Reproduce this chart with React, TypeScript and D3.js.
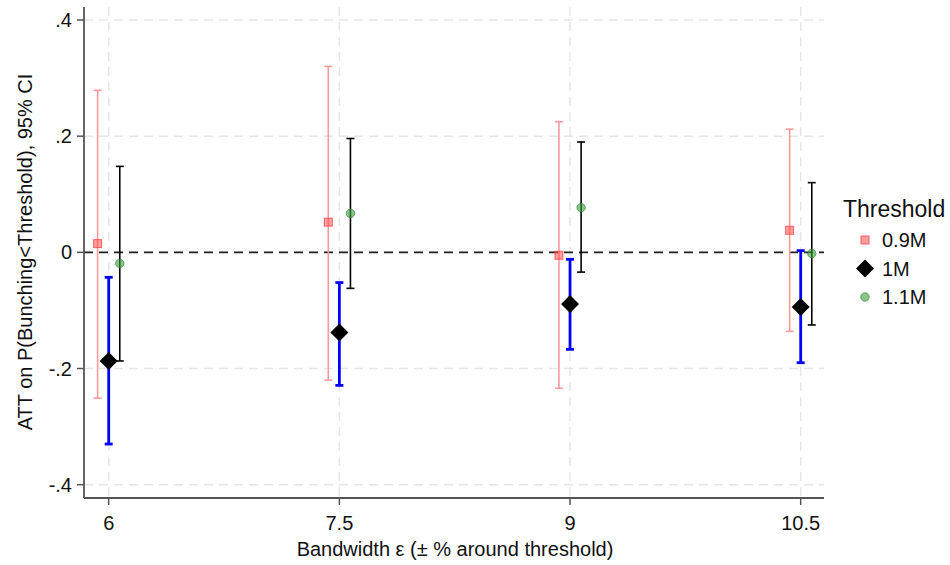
import React from "react";
import * as d3 from "d3";

const bandwidths = [6, 7.5, 9, 10.5];
const thresholds = ["0.9M", "1M", "1.1M"];
const est09 = [0.015, 0.052, -0.005, 0.038];
const lo09 = [-0.251, -0.22, -0.234, -0.136];
const hi09 = [0.279, 0.32, 0.225, 0.212];
const est10 = [-0.187, -0.138, -0.089, -0.094];
const lo10 = [-0.33, -0.229, -0.167, -0.19];
const hi10 = [-0.043, -0.052, -0.012, 0.003];
const est11 = [-0.019, 0.067, 0.077, -0.002];
const lo11 = [-0.187, -0.062, -0.034, -0.125];
const hi11 = [0.148, 0.196, 0.19, 0.12];
const yTicks = [-0.4, -0.2, 0, 0.2, 0.4];
const yTickLabels = ["-.4", "-.2", "0", ".2", ".4"];
const xTickLabels = ["6", "7.5", "9", "10.5"];
const offsets = [-0.072, 0, 0.072];

const W = 950;
const H = 565;
const FONT = "Liberation Sans, Arial, sans-serif";

export default function App() {
  const x = d3.scaleLinear().domain([6, 10.5]).range([108.7, 800.7]);
  const y = d3.scaleLinear().domain([-0.4, 0.4]).range([484.7, 20]);
  const left = 84;
  const right = 824;
  const top = 7;
  const bottom = 498;
  const cap = 4;

  const series = [
    { est: est09, lo: lo09, hi: hi09, ciColor: "#ff9a9a", ciW: 1.6 },
    { est: est10, lo: lo10, hi: hi10, ciColor: "#0000ff", ciW: 2.8 },
    { est: est11, lo: lo11, hi: hi11, ciColor: "#000000", ciW: 1.6 },
  ];

  const marker = (si: number, cx: number, cy: number, key: string) => {
    if (si === 0)
      return (
        <rect key={key} x={cx - 4} y={cy - 4} width={8} height={8}
          fill="rgba(255,80,80,0.55)" stroke="rgba(255,60,60,0.75)" strokeWidth={1} />
      );
    if (si === 1) {
      const s = 9;
      return (
        <path key={key} d={`M${cx},${cy - s}L${cx + s},${cy}L${cx},${cy + s}L${cx - s},${cy}Z`} fill="#000" />
      );
    }
    return (
      <circle key={key} cx={cx} cy={cy} r={4.2}
        fill="rgba(60,160,60,0.6)" stroke="rgba(40,140,40,0.7)" strokeWidth={1} />
    );
  };

  return (
    <svg width={W} height={H} style={{ position: "absolute", left: 0, top: 0, background: "#fff" }} fontFamily={FONT}>
      <rect x={0} y={0} width={W} height={H} fill="#fff" />
      {yTicks.map((t, i) => (
        <line key={"gy" + i} x1={left} x2={right} y1={y(t)} y2={y(t)}
          stroke="#e6e6e6" strokeWidth={1.5} strokeDasharray="9,6" />
      ))}
      {bandwidths.map((b, i) => (
        <line key={"gx" + i} x1={x(b)} x2={x(b)} y1={top} y2={bottom}
          stroke="#e6e6e6" strokeWidth={1.5} strokeDasharray="9,6" />
      ))}
      <line x1={left} x2={right} y1={y(0)} y2={y(0)} stroke="#222" strokeWidth={1.6} strokeDasharray="9,6" />
      <line x1={left} x2={left} y1={top} y2={bottom} stroke="#555" strokeWidth={1.8} />
      <line x1={left} x2={right} y1={bottom} y2={bottom} stroke="#555" strokeWidth={1.8} />
      {yTicks.map((t, i) => (
        <g key={"yt" + i}>
          <line x1={left - 7} x2={left} y1={y(t)} y2={y(t)} stroke="#555" strokeWidth={1.5} />
          <text x={72} y={y(t)} dy="0.35em" textAnchor="end" fontSize={20} fill="#111">{yTickLabels[i]}</text>
        </g>
      ))}
      {bandwidths.map((b, i) => (
        <g key={"xt" + i}>
          <line x1={x(b)} x2={x(b)} y1={bottom} y2={bottom + 7} stroke="#555" strokeWidth={1.5} />
          <text x={x(b)} y={530} textAnchor="middle" fontSize={20} fill="#111">{xTickLabels[i]}</text>
        </g>
      ))}
      <text x={455} y={556} textAnchor="middle" fontSize={20} fill="#111">Bandwidth ε (± % around threshold)</text>
      <text transform={`translate(32,252) rotate(-90)`} textAnchor="middle" fontSize={20} fill="#111">
        ATT on P(Bunching&lt;Threshold), 95% CI
      </text>
      {series.map((s, si) =>
        bandwidths.map((b, i) => {
          const cx = x(b + offsets[si]);
          return (
            <g key={"ci" + si + "-" + i}>
              <line x1={cx} x2={cx} y1={y(s.lo[i])} y2={y(s.hi[i])} stroke={s.ciColor} strokeWidth={s.ciW} />
              <line x1={cx - cap} x2={cx + cap} y1={y(s.lo[i])} y2={y(s.lo[i])} stroke={s.ciColor} strokeWidth={s.ciW} />
              <line x1={cx - cap} x2={cx + cap} y1={y(s.hi[i])} y2={y(s.hi[i])} stroke={s.ciColor} strokeWidth={s.ciW} />
            </g>
          );
        })
      )}
      {series.map((s, si) =>
        bandwidths.map((b, i) => marker(si, x(b + offsets[si]), y(s.est[i]), "m" + si + "-" + i))
      )}
      <text x={843} y={217} fontSize={23} fill="#111">Threshold</text>
      {thresholds.map((t, i) => {
        const ly = [240, 268.5, 297][i];
        return (
          <g key={"lg" + i}>
            {marker(i, 865, ly, "lm" + i)}
            <text x={882} y={ly} dy="0.36em" fontSize={20} fill="#111">{t}</text>
          </g>
        );
      })}
    </svg>
  );
}
